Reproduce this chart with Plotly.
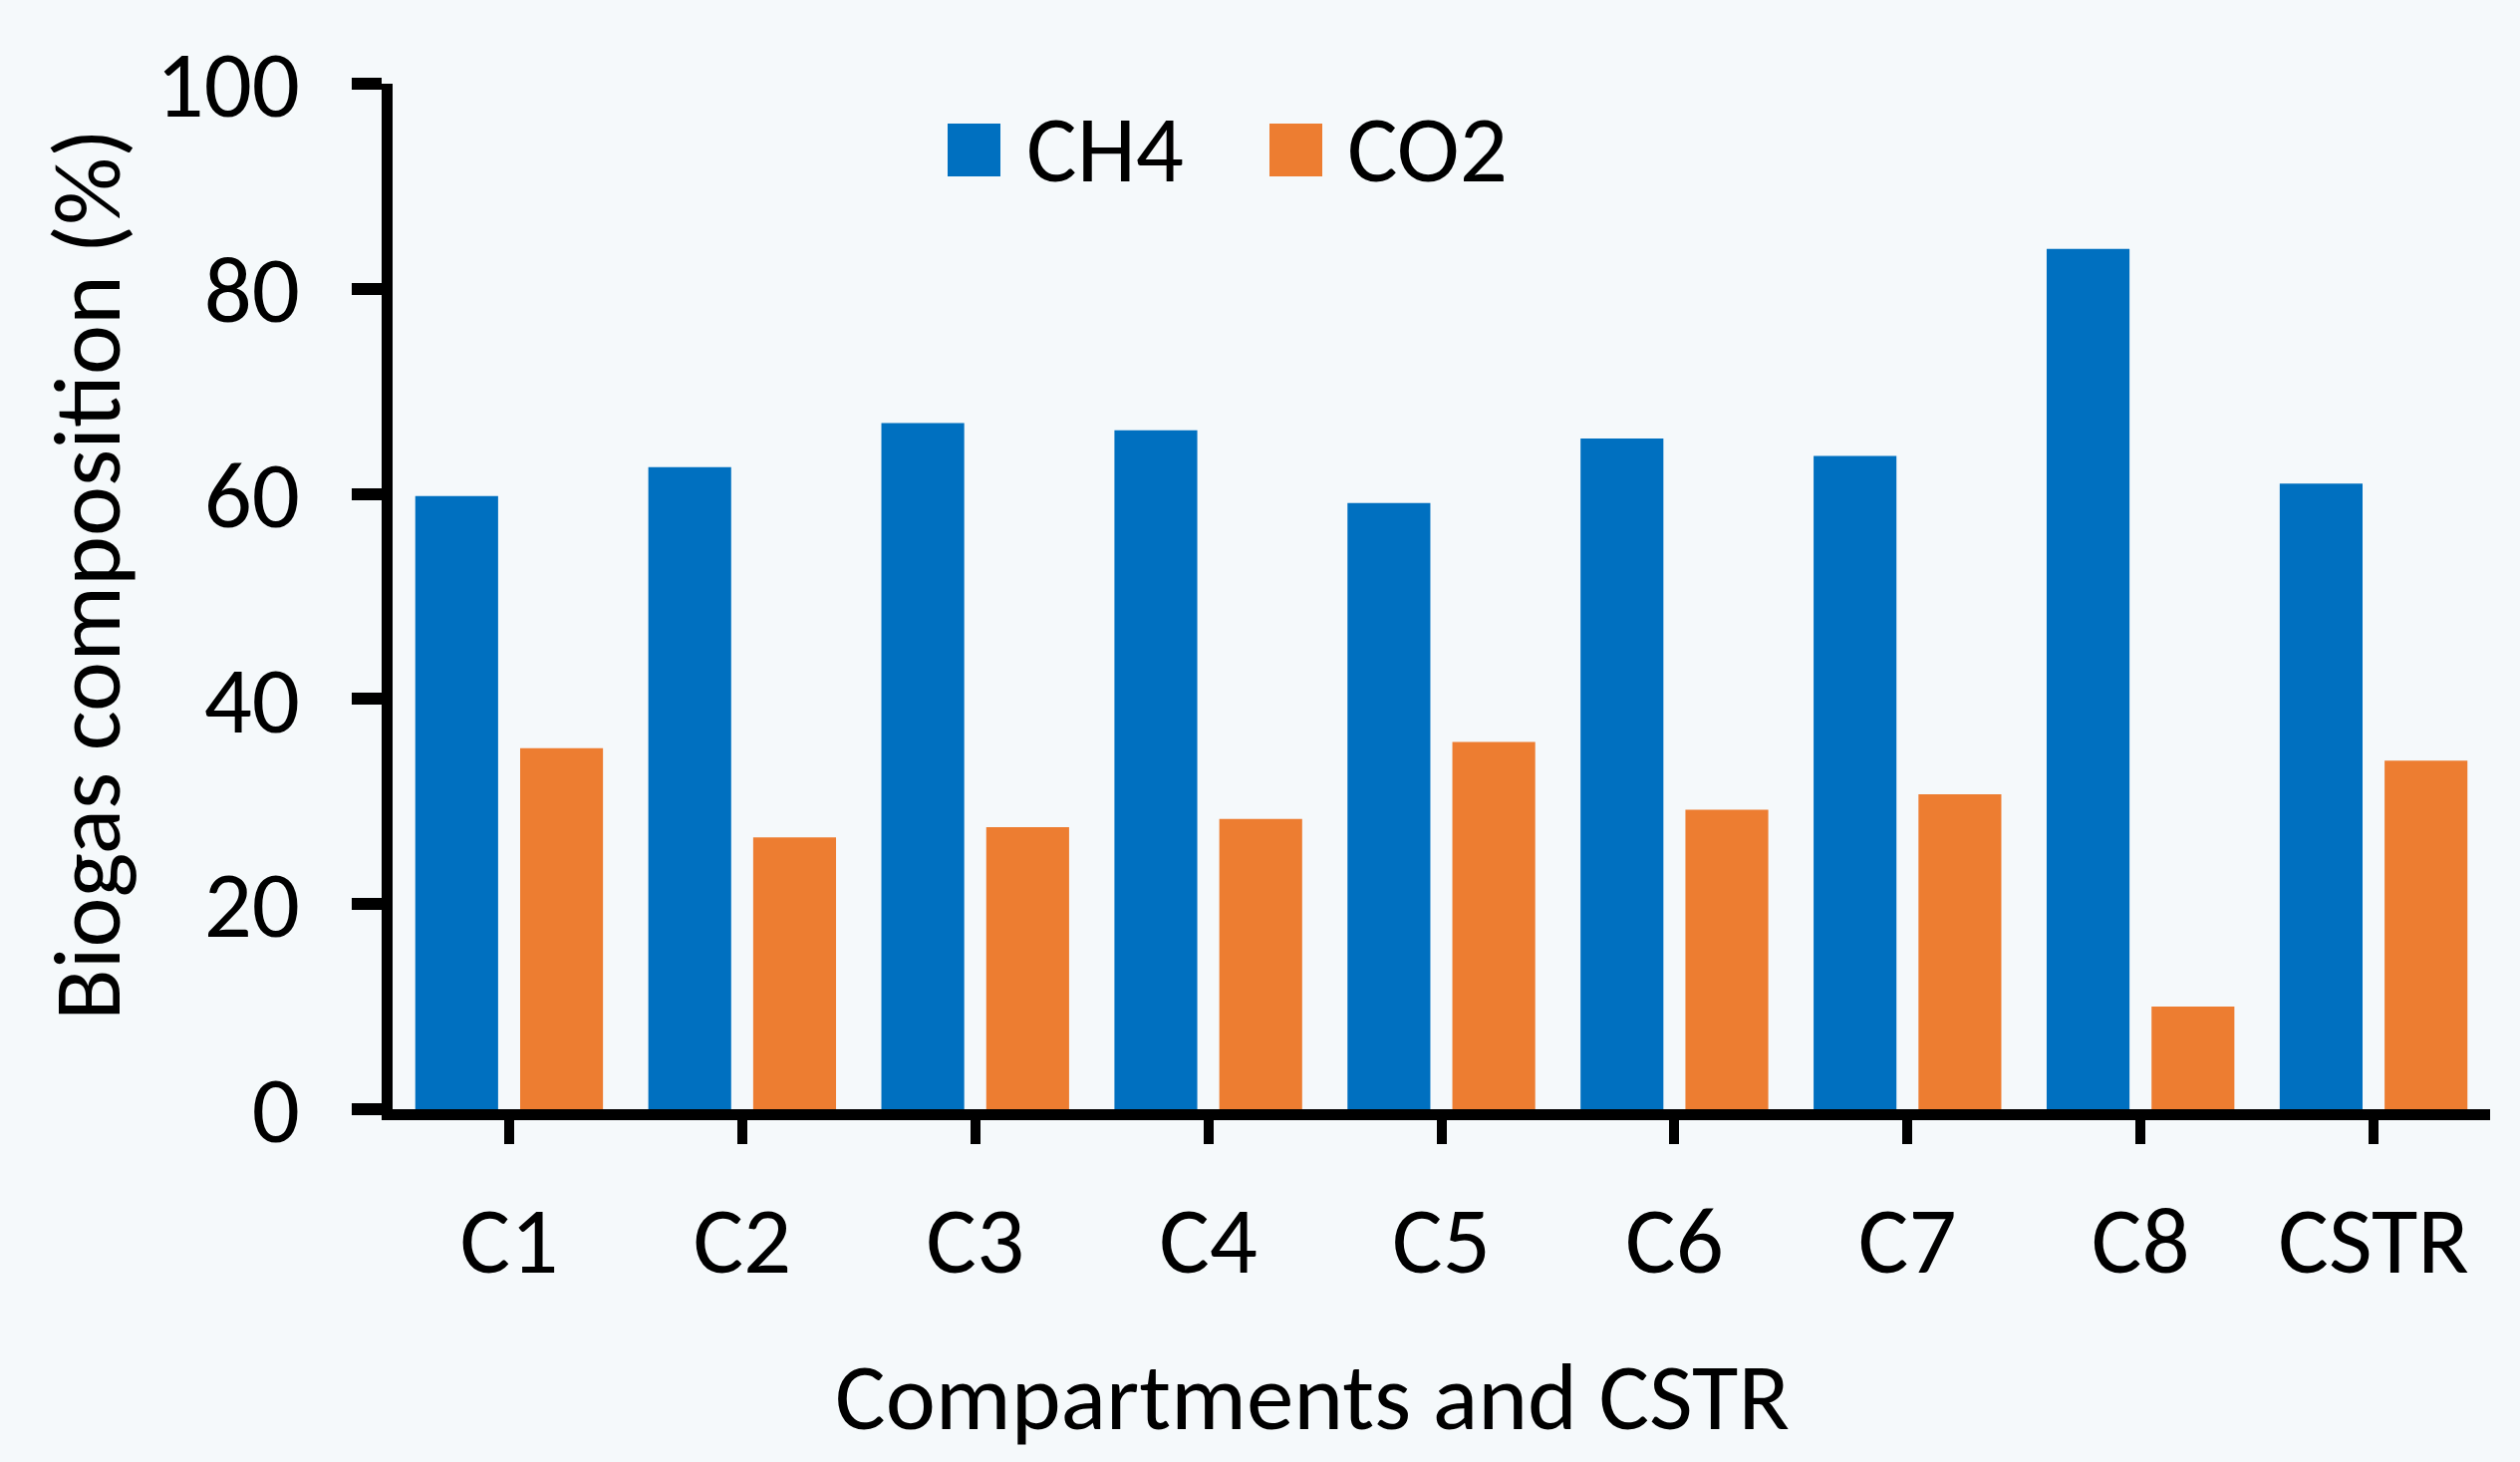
import plotly.graph_objects as go

categories = ["C1", "C2", "C3", "C4", "C5", "C6", "C7", "C8", "CSTR"]
ch4 = [59.8, 62.6, 66.9, 66.2, 59.1, 65.4, 63.7, 83.9, 61.0]
co2 = [35.2, 26.5, 27.5, 28.3, 35.8, 29.2, 30.7, 10.0, 34.0]
series_names = ["CH4", "CO2"]
series_colors = ["#0070C0", "#ED7D31"]
y_ticks = [0, 20, 40, 60, 80, 100]

W, H = 2529, 1467
L, R, T, B = 394, 30, 84, 354
FONT = "Carlito, Calibri, Lato, sans-serif"
FS = 95
BG = "#F5F9FB"

fig = go.Figure()
for name, vals, col in zip(series_names, [ch4, co2], series_colors):
    fig.add_trace(go.Bar(x=categories, y=vals, name=name,
                         marker=dict(color=col, line=dict(width=0)),
                         showlegend=False))

pw = W - L - R
ph = H - T - B
def px_x(p):
    return (p - L) / pw
def px_y(p):
    return (H - B - p) / ph

shapes = []
annotations = []
# custom legend
leg_sq = [(951, 1004), (1274, 1327)]
leg_tx = [1028, 1350]
for (x0, x1), tx, name, col in zip(leg_sq, leg_tx, series_names, series_colors):
    shapes.append(dict(type="rect", xref="paper", yref="paper",
                       x0=px_x(x0), x1=px_x(x1), y0=px_y(177), y1=px_y(124),
                       fillcolor=col, line=dict(width=0)))
    annotations.append(dict(text=name, xref="paper", yref="paper",
                            x=px_x(tx), y=px_y(150), xanchor="left", yanchor="middle",
                            showarrow=False, font=dict(family=FONT, size=FS, color="black")))

annotations.append(dict(text="Compartments and CSTR", xref="paper", yref="paper",
                        x=px_x(1317), y=px_y(1402), xanchor="center", yanchor="middle",
                        showarrow=False, font=dict(family=FONT, size=FS, color="black")))
annotations.append(dict(text="Biogas composition (%)", xref="paper", yref="paper",
                        x=px_x(88), y=px_y(577), xanchor="center", yanchor="middle",
                        textangle=-90,
                        showarrow=False, font=dict(family=FONT, size=FS, color="black")))

fig.update_layout(
    width=W, height=H,
    margin=dict(l=L, r=R, t=T, b=B, pad=0),
    paper_bgcolor=BG, plot_bgcolor=BG,
    barmode="group", bargap=0.1, bargroupgap=0.21,
    font=dict(family=FONT, size=FS, color="black"),
    shapes=shapes, annotations=annotations,
    xaxis=dict(range=[-0.5, len(categories) - 0.5], showline=True, linecolor="black",
               linewidth=11, ticks="outside", ticklen=24, tickwidth=10, tickcolor="black",
               showgrid=False, zeroline=False, ticklabelstandoff=15,
               tickfont=dict(family=FONT, size=FS, color="black")),
    yaxis=dict(range=[0, 100], tickvals=y_ticks, showline=True, linecolor="black",
               linewidth=11, ticks="outside", ticklen=30, tickwidth=12, tickcolor="black",
               showgrid=False, zeroline=False, ticklabelstandoff=33,
               tickfont=dict(family=FONT, size=FS, color="black")),
)

fig.write_html("out.html", config={"displayModeBar": False},
               post_script="document.body.style.margin='0';document.body.style.background='%s';" % BG)
